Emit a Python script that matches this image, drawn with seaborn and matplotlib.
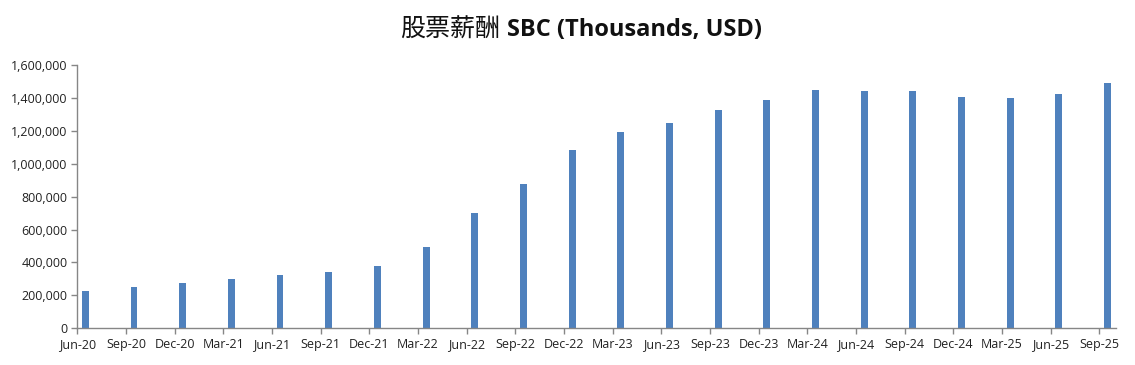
import pandas as pd
import matplotlib
matplotlib.use("Agg")
import matplotlib.pyplot as plt
import seaborn as sns
from matplotlib.ticker import FuncFormatter, MultipleLocator

# Data (thousands of USD)
quarters = ["Jun-20", "Sep-20", "Dec-20", "Mar-21", "Jun-21", "Sep-21",
            "Dec-21", "Mar-22", "Jun-22", "Sep-22", "Dec-22", "Mar-23",
            "Jun-23", "Sep-23", "Dec-23", "Mar-24", "Jun-24", "Sep-24",
            "Dec-24", "Mar-25", "Jun-25", "Sep-25"]
sbc = [228000, 253000, 277000, 301000, 326000, 342000,
       378000, 494000, 702000, 877000, 1083000, 1193000,
       1247000, 1326000, 1387000, 1448000, 1442000, 1442000,
       1405000, 1399000, 1423000, 1490000]

df = pd.DataFrame({"quarter": quarters, "sbc": sbc})
# month index on a date axis; bar sits in the middle of its month slot
periods = pd.PeriodIndex(pd.to_datetime(df["quarter"], format="%b-%y"), freq="M")
df["month"] = [(p - periods[0]).n for p in periods]
df["pos"] = df["month"] + 0.5

sns.set_theme(style="white")
plt.rcParams["font.family"] = ["Open Sans", "DejaVu Sans"]

fig = plt.figure(figsize=(11.35, 3.65), dpi=100)
ax = fig.add_axes([0.0681, 0.1005, 0.9148, 0.7214])

sns.barplot(data=df, x="pos", y="sbc", native_scale=True, width=0.14,
            color="#4F81BD", saturation=1, linewidth=0, ax=ax)

ax.set_xlim(0, df["month"].max() + 1)
ax.set_ylim(0, 1600000)
ax.set_xticks(df["month"])
ax.set_xticklabels(quarters)
ax.yaxis.set_major_locator(MultipleLocator(200000))
ax.yaxis.set_major_formatter(FuncFormatter(lambda v, p: f"{int(v):,}"))
ax.set_xlabel("")
ax.set_ylabel("")

for side in ["top", "right"]:
    ax.spines[side].set_visible(False)
for side in ["left", "bottom"]:
    ax.spines[side].set_color("#868686")
    ax.spines[side].set_linewidth(1)

ax.tick_params(axis="both", which="major", length=4, width=1, color="#868686",
               labelsize=9, labelcolor="#222222", pad=3)
ax.tick_params(axis="x", direction="out", bottom=True)
ax.tick_params(axis="y", direction="out", left=True)

# title: CJK part plain, English part bold
fig.text(0.441, 0.918, "股票薪酬", ha="right", va="center", fontsize=18,
         family=["Noto Sans CJK SC", "DejaVu Sans"], color="#111111")
fig.text(0.447, 0.918, "SBC (Thousands, USD)", ha="left", va="center",
         fontsize=17, fontweight="bold", family=["Open Sans", "DejaVu Sans"],
         color="#111111")

fig.savefig("out.png", dpi=100)
